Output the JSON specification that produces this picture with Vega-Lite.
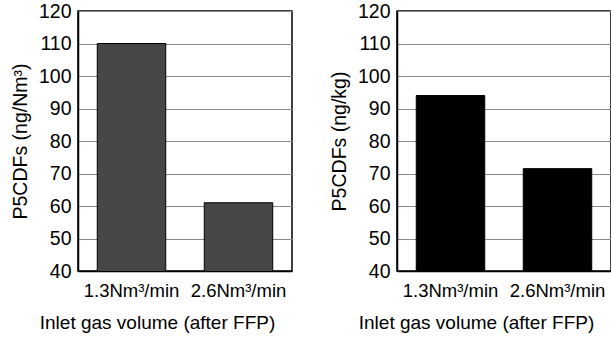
{
  "$schema": "https://vega.github.io/schema/vega-lite/v6.json",
  "padding": {"left": 9, "top": 0, "right": 0, "bottom": 0},
  "background": "white",
  "spacing": 35,
  "config": {
    "font": "Liberation Sans",
    "view": {"stroke": "black", "strokeWidth": 1.5},
    "axis": {
      "labelFont": "Liberation Sans",
      "titleFont": "Liberation Sans",
      "labelColor": "black",
      "titleColor": "black",
      "titleFontWeight": "normal",
      "domainColor": "black",
      "domainWidth": 1.5
    },
    "axisX": {
      "labelAngle": 0,
      "labelFontSize": 18.5,
      "titleFontSize": 19,
      "ticks": false,
      "labelPadding": 10,
      "titlePadding": 14,
      "titleX": 79
    },
    "axisY": {
      "values": [40, 50, 60, 70, 80, 90, 100, 110, 120],
      "labelFontSize": 19.5,
      "titleFontSize": 19.5,
      "ticks": false,
      "labelPadding": 7,
      "titlePadding": 8,
      "grid": true,
      "gridColor": "#8a8a8a",
      "gridWidth": 1
    }
  },
  "datasets": {
    "perVolume": [
      {"flow": "1.3Nm³/min", "p5cdfs": 110},
      {"flow": "2.6Nm³/min", "p5cdfs": 61}
    ],
    "perMass": [
      {"flow": "1.3Nm³/min", "p5cdfs": 94},
      {"flow": "2.6Nm³/min", "p5cdfs": 71.5}
    ]
  },
  "hconcat": [
    {
      "width": 214,
      "height": 260,
      "data": {"name": "perVolume"},
      "mark": {"type": "bar", "color": "#464646", "stroke": "black", "strokeWidth": 1, "clip": true},
      "encoding": {
        "x": {
          "field": "flow",
          "type": "nominal",
          "sort": null,
          "scale": {"paddingInner": 0.36, "paddingOuter": 0.18},
          "axis": {"title": "Inlet gas volume (after FFP)"}
        },
        "y": {
          "field": "p5cdfs",
          "type": "quantitative",
          "scale": {"domain": [40, 120], "nice": false, "zero": false},
          "axis": {"title": "P5CDFs (ng/Nm³)"}
        }
      }
    },
    {
      "width": 214,
      "height": 260,
      "data": {"name": "perMass"},
      "mark": {"type": "bar", "color": "black", "stroke": "black", "strokeWidth": 1, "clip": true},
      "encoding": {
        "x": {
          "field": "flow",
          "type": "nominal",
          "sort": null,
          "scale": {"paddingInner": 0.36, "paddingOuter": 0.18},
          "axis": {"title": "Inlet gas volume (after FFP)"}
        },
        "y": {
          "field": "p5cdfs",
          "type": "quantitative",
          "scale": {"domain": [40, 120], "nice": false, "zero": false},
          "axis": {"title": "P5CDFs (ng/kg)"}
        }
      }
    }
  ]
}
